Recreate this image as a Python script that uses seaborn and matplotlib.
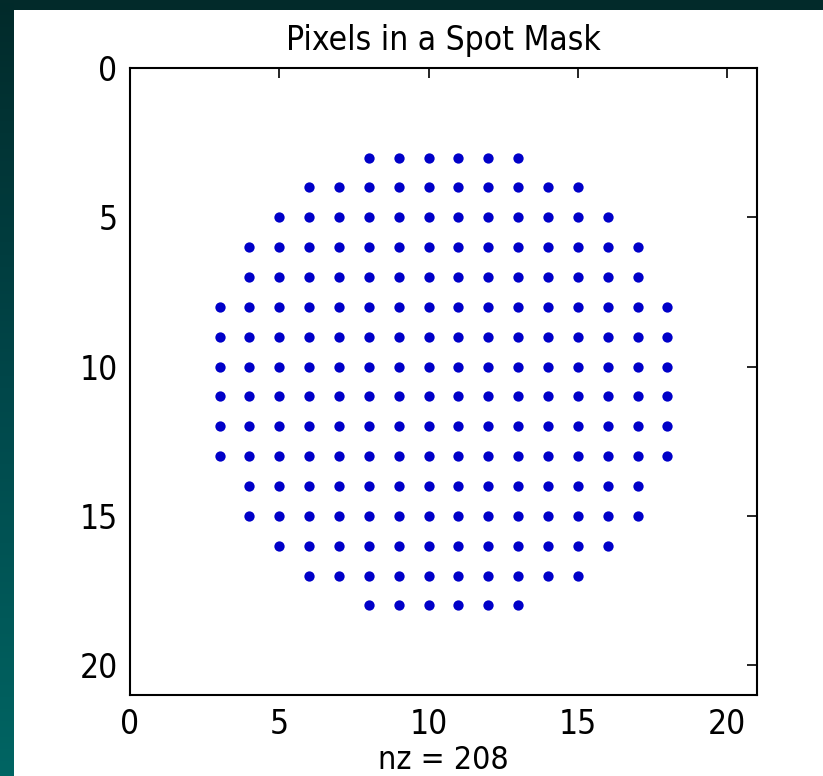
import numpy as np
import pandas as pd
import matplotlib
matplotlib.use("Agg")
import matplotlib.pyplot as plt
from matplotlib.colors import LinearSegmentedColormap
import seaborn as sns

# nonzero pixels of the spot mask, one row at a time (row, first col, last col)
row_index = [3, 4, 5, 6, 7, 8, 9, 10, 11, 12, 13, 14, 15, 16, 17, 18]
col_first = [8, 6, 5, 4, 4, 3, 3, 3, 3, 3, 3, 4, 4, 5, 6, 8]
col_last = [13, 15, 16, 17, 17, 18, 18, 18, 18, 18, 18, 17, 17, 16, 15, 13]
axis_ticks = [0, 5, 10, 15, 20]

points = []
for r, c0, c1 in zip(row_index, col_first, col_last):
    for c in range(c0, c1 + 1):
        points.append((c, r))
df = pd.DataFrame(points, columns=["col", "row"])

sns.set_style("white")
plt.rcParams["font.family"] = ["DejaVu Sans"]
plt.rcParams["font.stretch"] = "condensed"
plt.rcParams["text.color"] = "black"
plt.rcParams["axes.labelcolor"] = "black"

fig = plt.figure(figsize=(8.23, 7.76), dpi=100, facecolor="white")

# slide background: dark top band and teal gradient strip on the left
top = fig.add_axes([0, 1 - 10 / 776, 1, 10 / 776])
top.set_axis_off()
top.add_patch(plt.Rectangle((0, 0), 1, 1, color="#022a2a", transform=top.transAxes))
strip = fig.add_axes([0, 0, 14 / 823, 1])
grad = LinearSegmentedColormap.from_list("g", ["#022a2a", "#00474a", "#006563"])
strip.imshow(np.linspace(0, 1, 256).reshape(-1, 1), aspect="auto", cmap=grad)
strip.set_axis_off()

ax = fig.add_axes([130 / 823, 1 - 695 / 776, 627 / 823, 627 / 776])
sns.scatterplot(data=df, x="col", y="row", ax=ax, color="#0000c8",
                s=55, linewidth=0, marker="o")

ax.set_xlim(0, 21)
ax.set_ylim(21, 0)
ax.set_xticks(axis_ticks)
ax.set_yticks(axis_ticks)
ax.tick_params(direction="in", length=7, width=1.2, top=True, right=True,
               labelsize=24, colors="black", pad=9)
for s in ax.spines.values():
    s.set_color("black")
    s.set_linewidth(1.5)
ax.set_xlabel("nz = %d" % len(df), fontsize=23, labelpad=3)
ax.set_ylabel("")
ax.set_title("Pixels in a Spot Mask", fontsize=24, pad=13)

fig.savefig("out.png", dpi=100, facecolor="white")
